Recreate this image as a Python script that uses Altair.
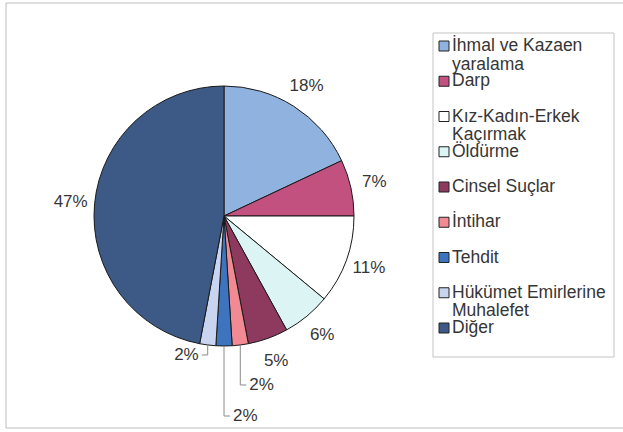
import math
import altair as alt
import pandas as pd

# ---- data ----
categories = [
    "İhmal ve Kazaen yaralama",
    "Darp",
    "Kız-Kadın-Erkek Kaçırmak",
    "Öldürme",
    "Cinsel Suçlar",
    "İntihar",
    "Tehdit",
    "Hükümet Emirlerine Muhalefet",
    "Diğer",
]
legend_line1 = ["İhmal ve Kazaen", "Darp", "Kız-Kadın-Erkek", "Öldürme", "Cinsel Suçlar",
                "İntihar", "Tehdit", "Hükümet Emirlerine", "Diğer"]
legend_line2 = ["yaralama", "", "Kaçırmak", "", "", "", "", "Muhalefet", ""]
shares = [18, 7, 11, 6, 5, 2, 2, 2, 47]
colors = ["#8FB2DF", "#C2517F", "#FFFFFF", "#DCF4F4", "#8E3A5E",
          "#F28A93", "#3E74BE", "#C9D5F0", "#3C5A85"]

# ---- layout (styling) ----
W, H = 623, 432
CX, CY, R = 224, 216, 130
LABEL_R = 154
FONT = "Liberation Sans"
TXT = "#363636"
# slices whose labels hang on leader lines: index -> (drop in px, side)
leaders = {5: (40, 1), 6: (70, 1), 7: (10, -1)}

labels = [f"{v}%" for v in shares]
df = pd.DataFrame({
    "cat": categories,
    "idx": list(range(len(categories))),
    "share": shares,
    "main_label": [("" if i in leaders else labels[i]) for i in range(len(categories))],
    "line1": legend_line1,
    "line2": legend_line2,
})

# leader-line geometry derived from the slice angles
total = sum(shares)
cum = 0.0
lead_pts, lead_lbl = [], []
for i, v in enumerate(shares):
    mid = (cum + v / 2) / total * 2 * math.pi
    cum += v
    if i in leaders:
        drop, side = leaders[i]
        ax = CX + R * math.sin(mid)
        ay = CY - R * math.cos(mid)
        pts = [(ax, ay), (ax, ay + drop), (ax + side * 6, ay + drop)]
        for k, (px, py) in enumerate(pts):
            lead_pts.append({"cat": categories[i], "k": k, "px": px, "py": py})
        lead_lbl.append({"cat": categories[i], "px": ax + side * 9, "py": ay + drop,
                         "label": labels[i], "side": side})
lead_df = pd.DataFrame(lead_pts)
lbl_df = pd.DataFrame(lead_lbl)

color_scale = alt.Scale(domain=categories, range=colors)
base = alt.Chart(df)

frame = alt.Chart(pd.DataFrame({"a": [0]})).mark_rect(
    fill=None, stroke="#bdbdbd", strokeWidth=1
).encode(x=alt.value(6), x2=alt.value(640), y=alt.value(3), y2=alt.value(428))

pie = base.mark_arc(outerRadius=R, stroke="#1a1a1a", strokeWidth=1).encode(
    theta=alt.Theta("share:Q", stack=True),
    order=alt.Order("idx:Q"),
    color=alt.Color("cat:N", scale=color_scale, legend=None),
    x=alt.value(CX),
    y=alt.value(CY),
)

pie_text = base.mark_text(font=FONT, fontSize=17, color=TXT).encode(
    theta=alt.Theta("share:Q", stack=True),
    order=alt.Order("idx:Q"),
    detail="cat:N",
    text="main_label:N",
    radius=alt.value(LABEL_R),
    x=alt.value(CX),
    y=alt.value(CY),
)

lead_lines = alt.Chart(lead_df).mark_line(color="#8a8a8a", strokeWidth=1).encode(
    x=alt.X("px:Q", scale=None, axis=None),
    y=alt.Y("py:Q", scale=None, axis=None),
    detail="cat:N",
    order="k:Q",
)

lead_text_r = alt.Chart(lbl_df).transform_filter("datum.side > 0").mark_text(
    font=FONT, fontSize=17, color=TXT, align="left", baseline="middle"
).encode(x=alt.X("px:Q", scale=None, axis=None), y=alt.Y("py:Q", scale=None, axis=None), text="label:N")

lead_text_l = alt.Chart(lbl_df).transform_filter("datum.side < 0").mark_text(
    font=FONT, fontSize=17, color=TXT, align="right", baseline="middle"
).encode(x=alt.X("px:Q", scale=None, axis=None), y=alt.Y("py:Q", scale=None, axis=None), text="label:N")

legend_box = alt.Chart(pd.DataFrame({"a": [0]})).mark_rect(
    fill=None, stroke="#c4c4c4", strokeWidth=1
).encode(x=alt.value(433), x2=alt.value(614), y=alt.value(33), y2=alt.value(357))

ly = alt.Y("idx:Q", scale=alt.Scale(domain=[0, 8], range=[46, 328]), axis=None)
leg_sym = base.mark_square(size=100, stroke="#222222", strokeWidth=1, opacity=1).encode(
    x=alt.value(444), y=ly,
    color=alt.Color("cat:N", scale=color_scale, legend=None),
)
leg_t1 = base.mark_text(font=FONT, fontSize=17.5, color=TXT, align="left", baseline="middle").encode(
    x=alt.value(452), y=ly, text="line1:N"
)
leg_t2 = base.mark_text(font=FONT, fontSize=17.5, color=TXT, align="left", baseline="middle", dy=18.5).encode(
    x=alt.value(452), y=ly, text="line2:N"
)

chart = alt.layer(
    frame, pie, pie_text, lead_lines, lead_text_r, lead_text_l,
    legend_box, leg_sym, leg_t1, leg_t2
).resolve_scale(
    x="independent", y="independent"
).properties(
    width=W, height=H, padding=0, autosize=alt.AutoSizeParams(type="none"),
    background="white"
).configure_view(stroke=None)

chart.save("out.html", embed_options={"renderer": "svg", "actions": False})
